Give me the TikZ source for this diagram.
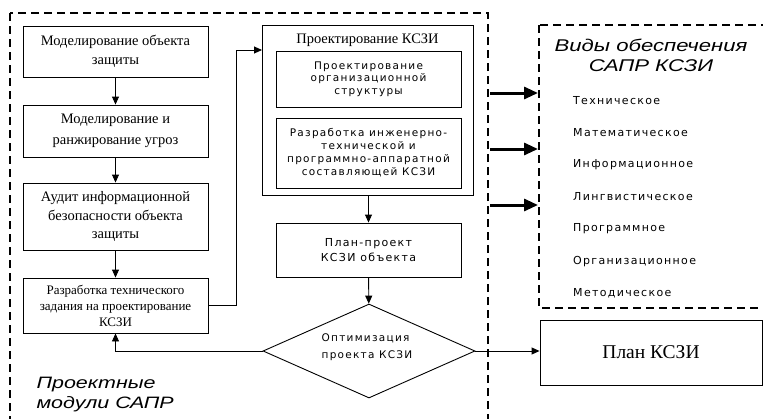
\documentclass[tikz,border=0pt]{standalone}
\usepackage{fontspec}
\setmainfont{Liberation Serif}
\newfontfamily\plainsans[LetterSpace=12]{DejaVu Sans}
\newfontfamily\headsans[FakeStretch=1.3]{Liberation Sans}
\usetikzlibrary{shapes.geometric,arrows.meta}

\begin{document}
\begin{tikzpicture}[x=1pt,y=-1pt,
	box/.style={draw, line width=0.9pt, align=center, inner sep=0pt},
	frame/.style={line width=2.2pt, dash pattern=on 8pt off 5pt},
	link/.style={line width=0.9pt, -{Triangle[length=8pt,width=7pt]}},
	feed/.style={line width=3pt, -{Triangle[length=14pt,width=12pt]}}]
	\clip (0,0) rectangle (763,418);
	% dashed frames
	\draw[frame] (10,13) rectangle (488,440);
	\draw[frame] (539,25) rectangle (800,308);
	% left column
	\node[box, minimum width=185pt, minimum height=51pt, font=\fontsize{14.5}{19}\selectfont] (model) at (115.5,51.5) {Моделирование объекта\\защиты};
	\node[box, minimum width=185pt, minimum height=52pt, font=\fontsize{14.5}{21}\selectfont] (threats) at (115.5,131) {Моделирование и\\ранжирование угроз};
	\node[box, minimum width=185pt, minimum height=67pt, font=\fontsize{14.5}{18.5}\selectfont] (audit) at (115.5,216.5) {Аудит информационной\\безопасности объекта\\защиты};
	\node[box, minimum width=185pt, minimum height=55pt, font=\fontsize{13}{16}\selectfont] (spec) at (115.5,305.5) {Разработка технического\\задания на проектирование\\КСЗИ};
	% design block
	\node[box, minimum width=211pt, minimum height=170pt] (design) at (367.5,110) {};
	\node[font=\fontsize{14.5}{15}\selectfont] (designtitle) at (367.5,40) {Проектирование КСЗИ};
	\node[box, minimum width=185pt, minimum height=56pt, font=\plainsans\fontsize{10.5}{12.5}\selectfont] (orgdesign) at (368.5,79) {Проектирование\\организационной\\структуры};
	\node[box, minimum width=185pt, minimum height=70pt, font=\plainsans\fontsize{10.5}{13}\selectfont] (techdesign) at (368.5,153) {Разработка инженерно-\\технической и\\программно-аппаратной\\составляющей КСЗИ};
	\node[box, minimum width=185pt, minimum height=54pt, font=\plainsans\fontsize{11}{15}\selectfont] (draft) at (368.5,250) {План-проект\\КСЗИ объекта};
	\node[box, diamond, aspect=2.26, minimum width=212pt, minimum height=94pt] (optim) at (369,351) {};
	\node[align=left, font=\plainsans\fontsize{10.5}{17}\selectfont] (optimtext) at (367,347) {Оптимизация\\проекта КСЗИ};
	\node[box, minimum width=222pt, minimum height=65pt, font=\fontsize{19.5}{20}\selectfont] (plan) at (651,352.5) {План КСЗИ};
	% titles
	\node[align=center, font=\headsans\itshape\fontsize{17}{20}\selectfont] (kinds) at (651,55) {Виды обеспечения\\САПР КСЗИ};
	\node[align=left, anchor=west, font=\headsans\itshape\fontsize{16.5}{20}\selectfont] (modules) at (33,395) {Проектные\\модули САПР};
	\foreach \name [count=\i] in {Техническое,Математическое,Информационное,Лингвистическое,Программное,Организационное,Методическое}
		\node[anchor=west, inner sep=0pt, font=\plainsans\fontsize{11}{12}\selectfont] (kind\i) at (573,68+32.2*\i) {\name};
	% connectors
	\coordinate (entry) at (262,50);
	\draw[link] (model) -- (threats);
	\draw[link] (threats) -- (audit);
	\draw[link] (audit) -- (spec);
	\draw[link] (spec.east) -- ++(28,0) |- (entry);
	\draw[link] (design.south -| draft.north) -- (draft.north);
	\draw[link] (draft) -- (optim);
	\draw[link] (optim.west) -| (spec.south);
	\draw[link] (optim.east) -- (optim.east -| plan.west);
	\foreach \y [count=\i] in {93,149,205} {
		\coordinate (src\i) at (490,\y);
		\coordinate (dst\i) at (538,\y);
		\draw[feed] (src\i) -- (dst\i);
	}
\end{tikzpicture}
\end{document}
